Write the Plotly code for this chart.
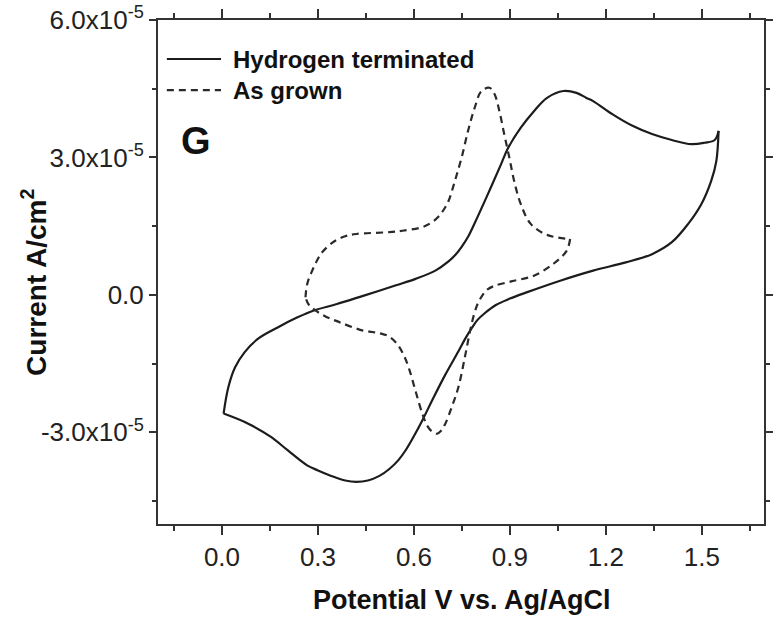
import plotly.graph_objects as go

# ---------------- data (Potential V, Current A/cm^2) ----------------
h_fwd_v = [0.005, 0.020, 0.041, 0.071, 0.112, 0.174, 0.236, 0.287, 0.359, 0.441,
           0.544, 0.605, 0.667, 0.708, 0.729, 0.749, 0.770, 0.790, 0.831, 0.872,
           0.893, 0.934, 0.975, 1.016, 1.067, 1.108, 1.139, 1.160, 1.221, 1.283,
           1.344, 1.406, 1.467, 1.508, 1.540, 1.552]
h_fwd_i = [-2.59e-5, -2.01e-5, -1.58e-5, -1.25e-5, -0.96e-5, -0.71e-5, -0.49e-5, -0.34e-5, -0.20e-5, -0.02e-5,
           0.21e-5, 0.35e-5, 0.53e-5, 0.73e-5, 0.87e-5, 1.05e-5, 1.28e-5, 1.57e-5, 2.20e-5, 2.85e-5,
           3.19e-5, 3.65e-5, 4.01e-5, 4.30e-5, 4.45e-5, 4.41e-5, 4.30e-5, 4.23e-5, 3.94e-5, 3.69e-5,
           3.51e-5, 3.38e-5, 3.29e-5, 3.32e-5, 3.38e-5, 3.58e-5]

h_rev_v = [1.552, 1.545, 1.529, 1.498, 1.457, 1.406, 1.344, 1.262, 1.160, 1.057,
           0.954, 0.900, 0.856, 0.821, 0.798, 0.780, 0.759, 0.739, 0.698, 0.657,
           0.626, 0.600, 0.575, 0.552, 0.523, 0.492, 0.456, 0.420, 0.385, 0.349,
           0.300, 0.266, 0.205, 0.153, 0.082, 0.005]
h_rev_i = [3.58e-5, 2.92e-5, 2.49e-5, 1.98e-5, 1.55e-5, 1.15e-5, 0.89e-5, 0.71e-5, 0.53e-5, 0.31e-5,
           0.06e-5, -0.08e-5, -0.22e-5, -0.40e-5, -0.55e-5, -0.73e-5, -0.97e-5, -1.23e-5, -1.74e-5, -2.30e-5,
           -2.74e-5, -3.08e-5, -3.38e-5, -3.60e-5, -3.80e-5, -3.95e-5, -4.05e-5, -4.08e-5, -4.05e-5, -3.97e-5,
           -3.83e-5, -3.72e-5, -3.39e-5, -3.10e-5, -2.81e-5, -2.59e-5]

a_fwd_v = [0.261, 0.263, 0.268, 0.279, 0.297, 0.313, 0.349, 0.385, 0.420, 0.523,
           0.564, 0.626, 0.655, 0.677, 0.694, 0.708, 0.728, 0.749, 0.769, 0.790,
           0.811, 0.836, 0.852, 0.867, 0.882, 0.898, 0.913, 0.934, 0.965, 1.016,
           1.088]
a_fwd_i = [-0.05e-5, 0.10e-5, 0.28e-5, 0.48e-5, 0.75e-5, 0.93e-5, 1.16e-5, 1.28e-5, 1.33e-5, 1.37e-5,
           1.40e-5, 1.48e-5, 1.58e-5, 1.71e-5, 1.87e-5, 2.05e-5, 2.49e-5, 3.00e-5, 3.58e-5, 4.09e-5,
           4.45e-5, 4.52e-5, 4.38e-5, 4.01e-5, 3.51e-5, 3.00e-5, 2.49e-5, 1.98e-5, 1.55e-5, 1.31e-5,
           1.22e-5]

a_rev_v = [1.088, 1.077, 1.036, 0.975, 0.907, 0.852, 0.830, 0.815, 0.800, 0.788,
           0.775, 0.759, 0.739, 0.718, 0.698, 0.684, 0.672, 0.656, 0.641, 0.626,
           0.605, 0.585, 0.567, 0.545, 0.520, 0.495, 0.470, 0.441, 0.369, 0.318,
           0.272, 0.261]
a_rev_i = [1.22e-5, 0.96e-5, 0.68e-5, 0.42e-5, 0.30e-5, 0.20e-5, 0.12e-5, 0.00e-5, -0.18e-5, -0.42e-5,
           -0.80e-5, -1.36e-5, -2.01e-5, -2.45e-5, -2.81e-5, -2.97e-5, -3.03e-5, -2.98e-5, -2.85e-5, -2.59e-5,
           -2.10e-5, -1.62e-5, -1.30e-5, -1.05e-5, -0.90e-5, -0.84e-5, -0.81e-5, -0.78e-5, -0.60e-5, -0.45e-5,
           -0.22e-5, -0.05e-5]

x_tickvals = [0.0, 0.3, 0.6, 0.9, 1.2, 1.5]
x_ticktext = ["0.0", "0.3", "0.6", "0.9", "1.2", "1.5"]
y_tickvals = [-3.0e-5, 0.0, 3.0e-5, 6.0e-5]
y_ticktext = ["-3.0x10<sup>-5</sup>", "0.0", "3.0x10<sup>-5</sup>", "6.0x10<sup>-5</sup>"]
y_minorvals = [-4.5e-5, -1.5e-5, 1.5e-5, 4.5e-5]

series_names = ["Hydrogen terminated", "As grown"]
x_title = "Potential V vs. Ag/AgCl"
y_title = "Current A/cm<sup>2</sup>"
panel_label = "G"

# ---------------- figure ----------------
FONT = "Liberation Sans, Arial, Helvetica, sans-serif"
INK = "#1c1c1c"

fig = go.Figure()
solid = dict(color=INK, width=2.2, shape="spline", smoothing=1.0)
dashed = dict(color="#2a2a2a", width=2.2, dash="7px,5px", shape="spline", smoothing=1.0)

fig.add_trace(go.Scatter(x=h_fwd_v, y=h_fwd_i, mode="lines", line=solid,
                         name=series_names[0], legendgroup="h", showlegend=False))
fig.add_trace(go.Scatter(x=h_rev_v, y=h_rev_i, mode="lines", line=solid,
                         name=series_names[0], legendgroup="h", showlegend=False))
fig.add_trace(go.Scatter(x=a_fwd_v, y=a_fwd_i, mode="lines", line=dashed,
                         name=series_names[1], legendgroup="a", showlegend=False))
fig.add_trace(go.Scatter(x=a_rev_v, y=a_rev_i, mode="lines", line=dashed,
                         name=series_names[1], legendgroup="a", showlegend=False))

axis_common = dict(showline=True, linecolor="#333333", linewidth=2, mirror="ticks",
                   ticks="outside", tickcolor="#333333", tickwidth=1.5,
                   showgrid=False, zeroline=False,
                   tickfont=dict(family=FONT, size=26, color="#222222"))

fig.update_xaxes(range=[-0.2, 1.694], tickmode="array", tickvals=x_tickvals, ticktext=x_ticktext,
                 ticklen=9,
                 minor=dict(dtick=0.15, tick0=0.0, ticks="outside", ticklen=5,
                            tickcolor="#333333", tickwidth=1.5, showgrid=False),
                 **axis_common)
fig.update_yaxes(range=[-5.0e-5, 6.0e-5], tickmode="array", tickvals=y_tickvals, ticktext=y_ticktext,
                 ticklen=7,
                 minor=dict(tickmode="array", tickvals=y_minorvals, ticks="outside", ticklen=4,
                            tickcolor="#333333", tickwidth=1.5, showgrid=False),
                 **axis_common)

annotations = [
    dict(text=panel_label, x=0.0634, y=0.760, xref="paper", yref="paper", showarrow=False,
         font=dict(family=FONT, size=38, color="#111111", weight="bold"), xanchor="center", yanchor="middle"),
    dict(text="<b>" + x_title + "</b>", x=0.502, y=-0.151, xref="paper", yref="paper", showarrow=False,
         font=dict(family=FONT, size=27, color="#111111"), xanchor="center", yanchor="middle"),
    dict(text="<b>" + y_title + "</b>", x=-0.2049, y=0.48, xref="paper", yref="paper", showarrow=False,
         textangle=-90, font=dict(family=FONT, size=28, color="#111111"), xanchor="center", yanchor="middle"),
    dict(text="<b>" + series_names[0] + "</b>", x=0.1203, y=0.9226, xref="paper", yref="paper",
         showarrow=False, font=dict(family=FONT, size=24, color="#111111"), xanchor="left", yanchor="middle"),
    dict(text="<b>" + series_names[1] + "</b>", x=0.1203, y=0.861, xref="paper", yref="paper",
         showarrow=False, font=dict(family=FONT, size=24, color="#111111"), xanchor="left", yanchor="middle"),
]

shapes = [
    dict(type="line", xref="paper", yref="paper", x0=0.0146, x1=0.104, y0=0.9226, y1=0.9226,
         line=dict(color=INK, width=2.2)),
    dict(type="line", xref="paper", yref="paper", x0=0.0146, x1=0.104, y0=0.861, y1=0.861,
         line=dict(color="#2a2a2a", width=2.2, dash="7px,5px")),
]

fig.update_layout(width=773, height=618, margin=dict(l=158, r=0, t=20, b=94),
                  paper_bgcolor="white", plot_bgcolor="white", showlegend=False,
                  annotations=annotations, shapes=shapes)

fig.write_html("out.html")
